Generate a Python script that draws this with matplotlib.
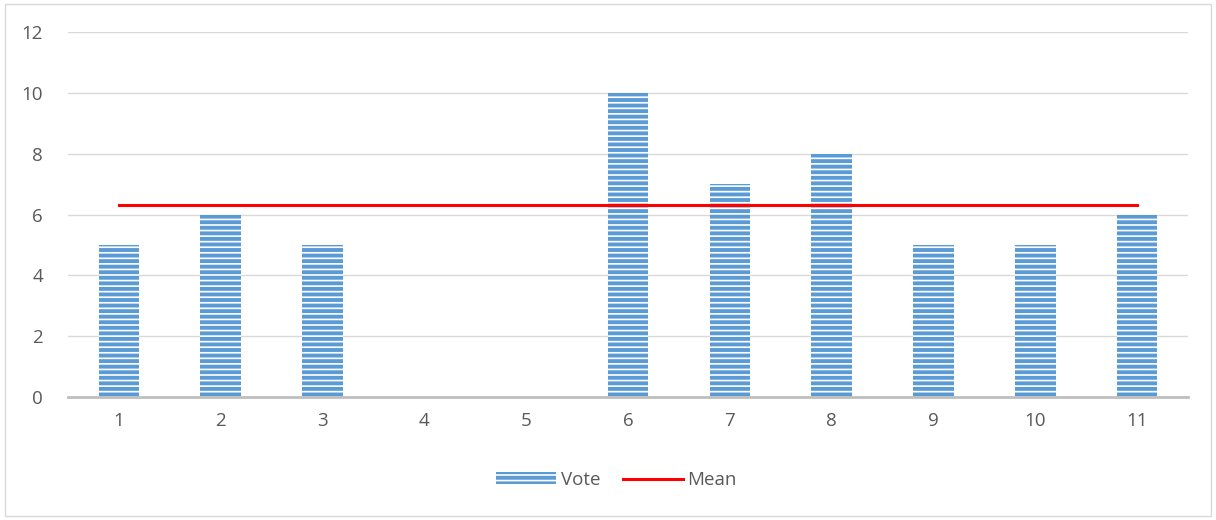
import numpy as np
import matplotlib.pyplot as plt
from matplotlib.patches import Rectangle

plt.rcParams['font.family'] = ['Open Sans', 'DejaVu Sans']
plt.rcParams['hatch.color'] = 'white'
plt.rcParams['hatch.linewidth'] = 1.2

categories = [1, 2, 3, 4, 5, 6, 7, 8, 9, 10, 11]
votes = [5, 6, 5, 0, 0, 10, 7, 8, 5, 5, 6]
mean_vote = 6.33

bar_color = '#5b9bd5'
text_color = '#595959'

fig = plt.figure(figsize=(12.16, 5.2), dpi=100)
ax = fig.add_axes([0.056, 0.2365, 0.921, 0.7015])

x = np.arange(len(categories)) + 1
bars = ax.bar(x, votes, width=0.4, color=bar_color, hatch='---', linewidth=0,
              label='Vote', zorder=2)
mline, = ax.plot([x[0], x[-1]], [mean_vote, mean_vote], color='#ff0000', lw=2.2,
                 label='Mean', zorder=3)

ax.set_xlim(0.5, len(categories) + 0.5)
ax.set_ylim(0, 12)
ax.set_yticks(range(0, 13, 2))
ax.set_xticks(x)
ax.set_xticklabels([str(c) for c in categories])
ax.tick_params(axis='both', length=0, labelsize=13.5, colors=text_color)
ax.tick_params(axis='x', pad=11)
ax.tick_params(axis='y', pad=18)
ax.grid(axis='y', color='#d9d9d9', lw=1, zorder=0)
for s in ['top', 'right', 'left']:
    ax.spines[s].set_visible(False)
ax.spines['bottom'].set_color('#bfbfbf')
ax.spines['bottom'].set_linewidth(2)
ax.spines['bottom'].set_zorder(4)

leg = fig.legend([bars, mline], ['Vote', 'Mean'], loc='center',
                 bbox_to_anchor=(0.507, 0.077), ncol=2,
                 frameon=False, fontsize=13.5, handlelength=3.2,
                 handleheight=0.6, handletextpad=0.25, columnspacing=1.2)
for t in leg.get_texts():
    t.set_color(text_color)

fig.patches.append(Rectangle((0.004, 0.008), 0.992, 0.984, transform=fig.transFigure,
                             fill=False, edgecolor='#d9d9d9', lw=1))

fig.savefig('out.png', dpi=100)
